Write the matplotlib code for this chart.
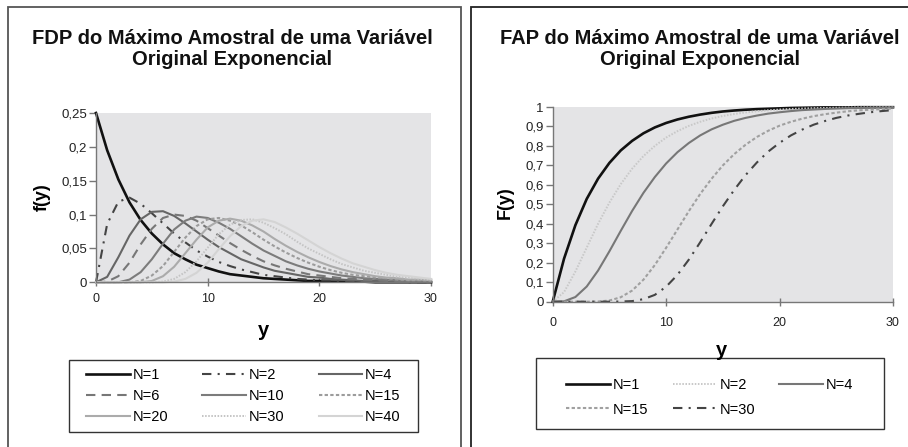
import matplotlib
matplotlib.use("Agg")
import matplotlib.pyplot as plt
from matplotlib.patches import Rectangle

plt.rcParams['font.family'] = ['Liberation Sans', 'DejaVu Sans']

# y grid (0..30) used for all series
y_pts = list(range(0, 31))

# FDP (density) of the sample maximum
f1 = [0.250, 0.195, 0.152, 0.118, 0.092, 0.072, 0.056, 0.043, 0.034, 0.026, 0.021, 0.016, 0.012, 0.010, 0.008, 0.006,
      0.005, 0.004, 0.003, 0.002, 0.002, 0.001, 0.001, 0.001, 0.001, 0.000, 0.000, 0.000, 0.000, 0.000, 0.000]
f2 = [0.000, 0.086, 0.119, 0.125, 0.116, 0.102, 0.087, 0.072, 0.059, 0.047, 0.038, 0.030, 0.024, 0.019, 0.015, 0.011,
      0.009, 0.007, 0.005, 0.004, 0.003, 0.003, 0.002, 0.002, 0.001, 0.001, 0.001, 0.001, 0.000, 0.000, 0.000]
f4 = [0.000, 0.008, 0.037, 0.069, 0.093, 0.104, 0.105, 0.098, 0.087, 0.075, 0.063, 0.052, 0.043, 0.034, 0.028, 0.022,
      0.017, 0.014, 0.011, 0.008, 0.007, 0.005, 0.004, 0.003, 0.002, 0.002, 0.001, 0.001, 0.001, 0.001, 0.001]
f6 = [0.000, 0.001, 0.009, 0.029, 0.056, 0.079, 0.095, 0.100, 0.098, 0.091, 0.080, 0.069, 0.058, 0.048, 0.039, 0.031,
      0.025, 0.020, 0.016, 0.012, 0.010, 0.008, 0.006, 0.005, 0.004, 0.003, 0.002, 0.002, 0.001, 0.001, 0.001]
f10 = [0.000, 0.000, 0.000, 0.004, 0.015, 0.034, 0.057, 0.078, 0.091, 0.097, 0.095, 0.088, 0.079, 0.068, 0.057, 0.047,
       0.039, 0.031, 0.025, 0.020, 0.016, 0.013, 0.010, 0.008, 0.006, 0.005, 0.004, 0.003, 0.002, 0.002, 0.001]
f15 = [0.000, 0.000, 0.000, 0.000, 0.002, 0.010, 0.024, 0.045, 0.066, 0.083, 0.093, 0.095, 0.091, 0.084, 0.074, 0.063,
       0.053, 0.044, 0.036, 0.029, 0.023, 0.018, 0.014, 0.011, 0.009, 0.007, 0.006, 0.004, 0.003, 0.003, 0.002]
f20 = [0.000, 0.000, 0.000, 0.000, 0.000, 0.002, 0.009, 0.023, 0.043, 0.063, 0.081, 0.091, 0.094, 0.091, 0.084, 0.075,
       0.064, 0.054, 0.045, 0.037, 0.030, 0.024, 0.019, 0.015, 0.012, 0.009, 0.007, 0.006, 0.004, 0.004, 0.003]
f30 = [0.000, 0.000, 0.000, 0.000, 0.000, 0.000, 0.001, 0.005, 0.015, 0.031, 0.051, 0.071, 0.085, 0.092, 0.093, 0.088,
       0.080, 0.071, 0.060, 0.050, 0.042, 0.034, 0.027, 0.022, 0.017, 0.014, 0.011, 0.008, 0.007, 0.005, 0.004]
f40 = [0.000, 0.000, 0.000, 0.000, 0.000, 0.000, 0.000, 0.001, 0.005, 0.014, 0.029, 0.049, 0.068, 0.083, 0.091, 0.093,
       0.089, 0.081, 0.072, 0.062, 0.052, 0.043, 0.035, 0.028, 0.023, 0.018, 0.014, 0.011, 0.009, 0.007, 0.005]

# FAP (cumulative) of the sample maximum
F1 = [0.000, 0.221, 0.393, 0.528, 0.632, 0.713, 0.777, 0.826, 0.865, 0.895, 0.918, 0.936, 0.950, 0.961, 0.970, 0.977,
      0.982, 0.986, 0.989, 0.991, 0.993, 0.995, 0.996, 0.997, 0.998, 0.998, 0.998, 0.999, 0.999, 0.999, 0.999]
F2 = [0.000, 0.049, 0.155, 0.278, 0.400, 0.509, 0.604, 0.683, 0.748, 0.800, 0.843, 0.876, 0.903, 0.924, 0.941, 0.954,
      0.964, 0.972, 0.978, 0.983, 0.987, 0.990, 0.992, 0.994, 0.995, 0.996, 0.997, 0.998, 0.998, 0.999, 0.999]
F4 = [0.000, 0.002, 0.024, 0.078, 0.160, 0.259, 0.364, 0.466, 0.559, 0.640, 0.710, 0.768, 0.815, 0.854, 0.885, 0.909,
      0.929, 0.944, 0.956, 0.966, 0.973, 0.979, 0.984, 0.987, 0.990, 0.992, 0.994, 0.995, 0.996, 0.997, 0.998]
F15 = [0.000, 0.000, 0.000, 0.000, 0.001, 0.006, 0.023, 0.057, 0.113, 0.188, 0.277, 0.371, 0.465, 0.553, 0.631, 0.700,
       0.758, 0.806, 0.846, 0.878, 0.904, 0.924, 0.940, 0.953, 0.963, 0.971, 0.978, 0.983, 0.986, 0.989, 0.992]
F30 = [0.000, 0.000, 0.000, 0.000, 0.000, 0.000, 0.001, 0.003, 0.013, 0.035, 0.077, 0.138, 0.216, 0.305, 0.399, 0.490,
       0.574, 0.650, 0.715, 0.771, 0.816, 0.854, 0.884, 0.909, 0.928, 0.944, 0.956, 0.965, 0.973, 0.979, 0.984]

left_ticks = [0, 0.05, 0.1, 0.15, 0.2, 0.25]
left_ticklabels = ["0", "0,05", "0,1", "0,15", "0,2", "0,25"]
right_ticks = [0, 0.1, 0.2, 0.3, 0.4, 0.5, 0.6, 0.7, 0.8, 0.9, 1]
right_ticklabels = ["0", "0,1", "0,2", "0,3", "0,4", "0,5", "0,6", "0,7", "0,8", "0,9", "1"]
x_ticks = [0, 10, 20, 30]

W, H = 908, 447


def fx(px):
    return px / W


def fy(py):
    return 1 - py / H


# line styles per N
DASHDOT = (0, (4.5, 3, 1, 3))
LONGDASH = (0, (4.5, 3))
SHORTDASH = (0, (1.6, 1.1))
DOTTED = (0, (0.8, 0.8))
sty = {
    1: dict(color='#111111', lw=1.9, ls='-'),
    2: dict(color='#444444', lw=1.5, ls=DASHDOT),
    4: dict(color='#666666', lw=1.5, ls='-'),
    6: dict(color='#777777', lw=1.5, ls=LONGDASH),
    10: dict(color='#7c7c7c', lw=1.5, ls='-'),
    15: dict(color='#9c9c9c', lw=1.5, ls=SHORTDASH),
    20: dict(color='#ababab', lw=1.5, ls='-'),
    30: dict(color='#c4c4c4', lw=1.4, ls=DOTTED),
    40: dict(color='#d4d4d4', lw=1.5, ls='-'),
}
sty_right = {
    1: dict(color='#111111', lw=1.9, ls='-'),
    2: dict(color='#c8c8c8', lw=1.4, ls=DOTTED),
    4: dict(color='#777777', lw=1.5, ls='-'),
    15: dict(color='#a0a0a0', lw=1.5, ls=SHORTDASH),
    30: dict(color='#444444', lw=1.5, ls=DASHDOT),
}

fig = plt.figure(figsize=(W / 100, H / 100), dpi=100)

# panel frames
fig.patches.append(Rectangle((fx(8), -0.05), fx(461) - fx(8), fy(7) + 0.05, transform=fig.transFigure,
                             fill=False, edgecolor='#555555', lw=1.3))
fig.patches.append(Rectangle((fx(471), -0.05), 0.6, fy(7) + 0.05, transform=fig.transFigure,
                             fill=False, edgecolor='#222222', lw=1.3))
# legend frames
fig.patches.append(Rectangle((fx(69), fy(432)), fx(418) - fx(69), fy(360) - fy(432), transform=fig.transFigure,
                             fill=False, edgecolor='#333333', lw=1))
fig.patches.append(Rectangle((fx(536), fy(429)), fx(884) - fx(536), fy(358) - fy(429), transform=fig.transFigure,
                             fill=False, edgecolor='#333333', lw=1))


def style_axes(ax, ticks, labels, ytop):
    ax.set_facecolor('#e4e4e6')
    ax.set_xlim(0, 30)
    ax.set_ylim(0, ytop)
    ax.set_xticks(x_ticks)
    ax.set_yticks(ticks)
    ax.set_yticklabels(labels)
    for s in ['top', 'right']:
        ax.spines[s].set_visible(False)
    for s in ['left', 'bottom']:
        ax.spines[s].set_color('#777777')
        ax.spines[s].set_linewidth(1)
    ax.tick_params(axis='y', direction='out', length=5, width=1, color='#777777', labelsize=9.5, pad=1.5,
                   labelcolor='#222222')
    ax.tick_params(axis='x', direction='inout', length=6, width=1, color='#777777', labelsize=9, pad=5,
                   labelcolor='#222222')


# left: FDP
ax1 = fig.add_axes([fx(96), fy(282.3), fx(431) - fx(96), fy(113) - fy(282.3)])
style_axes(ax1, left_ticks, left_ticklabels, 0.25)
series_left = [(1, f1), (2, f2), (4, f4), (6, f6), (10, f10), (15, f15), (20, f20), (30, f30), (40, f40)]
lines_left = {}
for n, vals in series_left:
    s = sty[n]
    ln, = ax1.plot(y_pts, vals, color=s['color'], lw=s['lw'], ls=s['ls'], clip_on=False, label="N=%d" % n)
    lines_left[n] = ln

# right: FAP
ax2 = fig.add_axes([fx(552.7), fy(301.7), fx(893) - fx(552.7), fy(107) - fy(301.7)])
style_axes(ax2, right_ticks, right_ticklabels, 1)
ax2.tick_params(axis='x', pad=8)
series_right = [(1, F1), (2, F2), (4, F4), (15, F15), (30, F30)]
lines_right = {}
for n, vals in series_right:
    s = sty_right[n]
    ln, = ax2.plot(y_pts, vals, color=s['color'], lw=s['lw'], ls=s['ls'], clip_on=False, label="N=%d" % n)
    lines_right[n] = ln

# titles
fig.text(fx(232), fy(49), "FDP do Máximo Amostral de uma Variável\nOriginal Exponencial",
         ha='center', va='center', fontsize=14.5, fontweight='bold', multialignment='center', color='#111111',
         linespacing=1.15)
fig.text(fx(700), fy(49), "FAP do Máximo Amostral de uma Variável\nOriginal Exponencial",
         ha='center', va='center', fontsize=14.5, fontweight='bold', multialignment='center', color='#111111',
         linespacing=1.15)

# axis labels
fig.text(fx(42), fy(197), "f(y)", rotation=90, ha='center', va='center', fontsize=13, fontweight='bold')
fig.text(fx(263), fy(330), "y", ha='center', va='center', fontsize=14.5, fontweight='bold')
fig.text(fx(505), fy(203), "F(y)", rotation=90, ha='center', va='center', fontsize=13, fontweight='bold')
fig.text(fx(722), fy(351), "y", ha='center', va='center', fontsize=14.5, fontweight='bold')

# legends (row-major order -> column-major for matplotlib)
order_left = [1, 6, 20, 2, 10, 30, 4, 15, 40]
fig.legend([lines_left[n] for n in order_left], ["N=%d" % n for n in order_left],
           loc='upper left', bbox_to_anchor=(fx(86), fy(368)), bbox_transform=fig.transFigure,
           ncol=3, frameon=False, fontsize=10.5, borderpad=0, borderaxespad=0,
           handlelength=3.0, handletextpad=0.2, columnspacing=2.33, labelspacing=0.48)
order_right = [1, 15, 2, 30, 4]
fig.legend([lines_right[n] for n in order_right], ["N=%d" % n for n in order_right],
           loc='upper left', bbox_to_anchor=(fx(566), fy(378)), bbox_transform=fig.transFigure,
           ncol=3, frameon=False, fontsize=10.5, borderpad=0, borderaxespad=0,
           handlelength=3.0, handletextpad=0.2, columnspacing=1.68, labelspacing=0.72)

fig.savefig("out.png", dpi=100)
